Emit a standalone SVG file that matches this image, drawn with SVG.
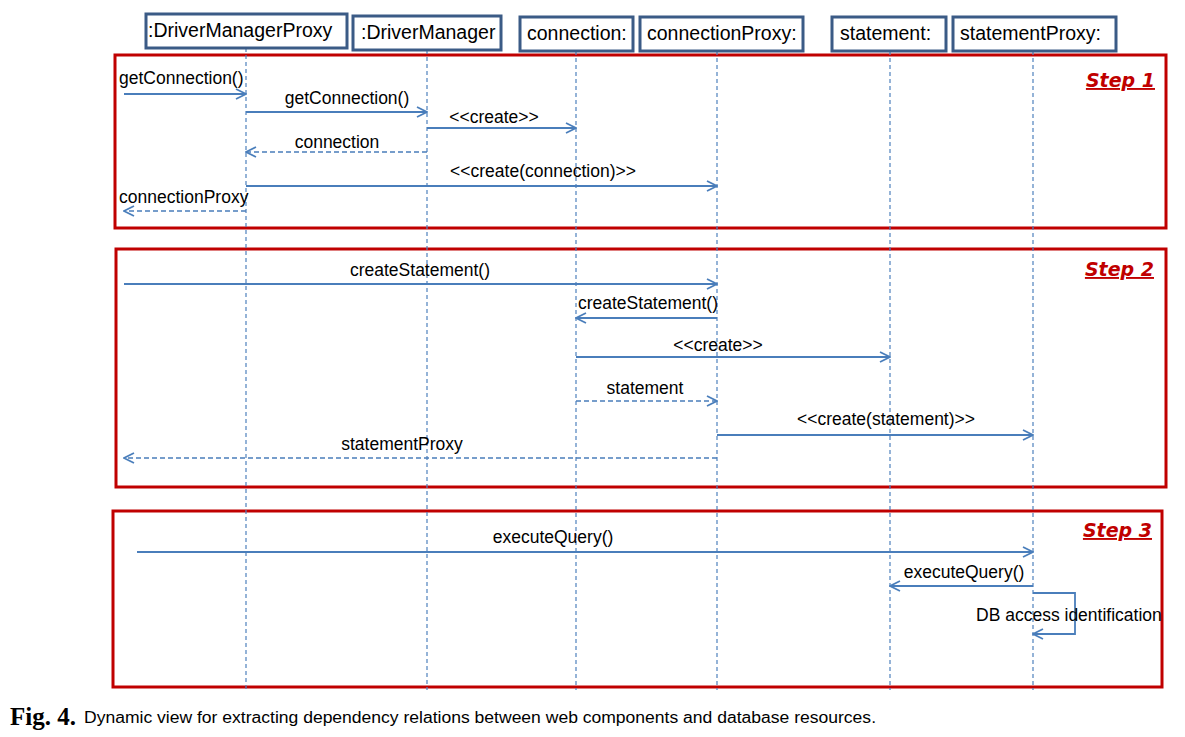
<svg xmlns="http://www.w3.org/2000/svg" width="1185" height="737" viewBox="0 0 1185 737">
<style>
.head{fill:#fff;stroke:#3b5b86;stroke-width:3}
.htxt{font-family:"Liberation Sans",Arial,sans-serif;font-size:19.5px;fill:#000}
.life{stroke:#4f81bd;stroke-width:1.2;stroke-dasharray:4 3;fill:none}
.frame{fill:none;stroke:#c00000;stroke-width:3}
.step{font-family:"DejaVu Sans",Verdana,sans-serif;font-size:19px;font-weight:bold;font-style:italic;text-decoration:underline;fill:#c00000}
.msg{stroke:#4a7ebb;stroke-width:1.8;fill:none;marker-end:url(#arr)}
.ret{stroke:#4a7ebb;stroke-width:1.6;fill:none;stroke-dasharray:5 3;marker-end:url(#arr)}
.lbl{font-family:"Liberation Sans",Arial,sans-serif;font-size:17.5px;fill:#000}
</style>
<defs>
<marker id="arr" viewBox="0 0 12 12" refX="11" refY="6" markerWidth="12" markerHeight="12" markerUnits="userSpaceOnUse" orient="auto">
<path d="M1,1 L11,6 L1,11" fill="none" stroke="#4a7ebb" stroke-width="1.8"/>
</marker>
</defs>
<rect width="1185" height="737" fill="#fff"/>

<g id="frames">
<rect class="frame" x="115" y="55" width="1051" height="173"/>
<text class="step" x="1155" y="87" text-anchor="end">Step 1</text>
<rect class="frame" x="116" y="249" width="1050" height="238"/>
<text class="step" x="1154" y="276" text-anchor="end">Step 2</text>
<rect class="frame" x="113" y="511" width="1049" height="176"/>
<text class="step" x="1152" y="537" text-anchor="end">Step 3</text>
</g>

<g id="lifelines">
<line class="life" x1="246" y1="48" x2="246" y2="690"/>
<line class="life" x1="427" y1="50" x2="427" y2="690"/>
<line class="life" x1="576" y1="51" x2="576" y2="690"/>
<line class="life" x1="717" y1="51" x2="717" y2="690"/>
<line class="life" x1="890" y1="51" x2="890" y2="690"/>
<line class="life" x1="1033" y1="51" x2="1033" y2="690"/>
</g>

<g id="node-driverManagerProxy">
<rect class="head" x="146" y="14" width="201" height="34"/>
<text class="htxt" x="148" y="37">:DriverManagerProxy</text>
</g>
<g id="node-driverManager">
<rect class="head" x="353" y="16" width="148" height="34"/>
<text class="htxt" x="361" y="39">:DriverManager</text>
</g>
<g id="node-connection">
<rect class="head" x="520" y="17" width="113" height="34"/>
<text class="htxt" x="527" y="40">connection:</text>
</g>
<g id="node-connectionProxy">
<rect class="head" x="640" y="17" width="163" height="34"/>
<text class="htxt" x="647" y="40">connectionProxy:</text>
</g>
<g id="node-statement">
<rect class="head" x="832" y="17" width="114" height="34"/>
<text class="htxt" x="840" y="40">statement:</text>
</g>
<g id="node-statementProxy">
<rect class="head" x="953" y="17" width="163" height="34"/>
<text class="htxt" x="960" y="40">statementProxy:</text>
</g>

<g id="connectors">
<!-- Step 1 -->
<line class="msg" x1="124" y1="94" x2="246" y2="94"/>
<text class="lbl" x="119" y="84">getConnection()</text>
<line class="msg" x1="246" y1="112" x2="427" y2="112"/>
<text class="lbl" x="347" y="104" text-anchor="middle">getConnection()</text>
<line class="msg" x1="427" y1="128" x2="576" y2="128"/>
<text class="lbl" x="494" y="123" text-anchor="middle">&lt;&lt;create&gt;&gt;</text>
<line class="ret" x1="427" y1="152" x2="246" y2="152"/>
<text class="lbl" x="337" y="148" text-anchor="middle">connection</text>
<line class="msg" x1="246" y1="186" x2="717" y2="186"/>
<text class="lbl" x="543" y="177" text-anchor="middle">&lt;&lt;create(connection)&gt;&gt;</text>
<line class="ret" x1="246" y1="211" x2="124" y2="211"/>
<text class="lbl" x="119" y="203">connectionProxy</text>
<!-- Step 2 -->
<line class="msg" x1="124" y1="284" x2="717" y2="284"/>
<text class="lbl" x="420" y="276" text-anchor="middle">createStatement()</text>
<line class="msg" x1="717" y1="318" x2="576" y2="318"/>
<text class="lbl" x="648" y="309" text-anchor="middle">createStatement()</text>
<line class="msg" x1="576" y1="357" x2="890" y2="357"/>
<text class="lbl" x="718" y="351" text-anchor="middle">&lt;&lt;create&gt;&gt;</text>
<line class="ret" x1="576" y1="401" x2="717" y2="401"/>
<text class="lbl" x="645" y="394" text-anchor="middle">statement</text>
<line class="msg" x1="717" y1="435" x2="1033" y2="435"/>
<text class="lbl" x="886" y="425" text-anchor="middle">&lt;&lt;create(statement)&gt;&gt;</text>
<line class="ret" x1="717" y1="458" x2="124" y2="458"/>
<text class="lbl" x="402" y="450" text-anchor="middle">statementProxy</text>
<!-- Step 3 -->
<line class="msg" x1="137" y1="552" x2="1033" y2="552"/>
<text class="lbl" x="553" y="543" text-anchor="middle">executeQuery()</text>
<line class="msg" x1="1033" y1="586" x2="890" y2="586"/>
<text class="lbl" x="964" y="578" text-anchor="middle">executeQuery()</text>
<path class="msg" d="M1033,593 H1075 V634 H1033"/>
<text class="lbl" x="976" y="621">DB access identification</text>
</g>

<g id="caption">
<text x="10" y="725" font-family="'Liberation Serif','Times New Roman',serif" font-size="25" font-weight="bold" fill="#000">Fig. 4.</text>
<text x="84" y="723" font-family="'Liberation Sans',Arial,sans-serif" font-size="16" fill="#000" textLength="792" lengthAdjust="spacingAndGlyphs">Dynamic view for extracting dependency relations between web components and database resources.</text>
</g>
</svg>
